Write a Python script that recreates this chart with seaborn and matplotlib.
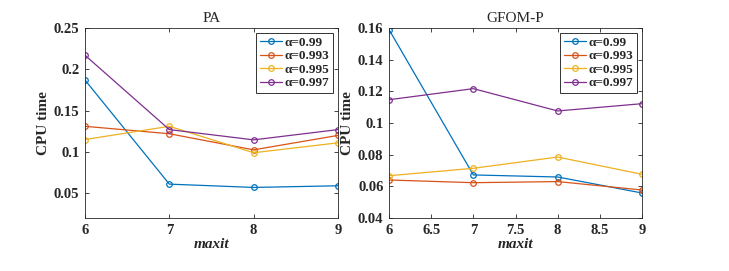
import pandas as pd
import seaborn as sns
import matplotlib.pyplot as plt

# data
maxit = [6, 7, 8, 9]
alphas = ['0.99', '0.993', '0.995', '0.997']

pa_099 = [0.187, 0.061, 0.057, 0.059]
pa_0993 = [0.131, 0.122, 0.1025, 0.120]
pa_0995 = [0.115, 0.131, 0.099, 0.111]
pa_0997 = [0.217, 0.127, 0.1146, 0.127]

gf_099 = [0.159, 0.0672, 0.0659, 0.0558]
gf_0993 = [0.064, 0.0623, 0.063, 0.0577]
gf_0995 = [0.0667, 0.0714, 0.0785, 0.0676]
gf_0997 = [0.1147, 0.1217, 0.1076, 0.1122]

colors = ['#0072BD', '#D95319', '#EDB120', '#7E2F8E']


def to_long(series):
    rows = []
    for a, vals in zip(alphas, series):
        for x, v in zip(maxit, vals):
            rows.append({'maxit': x, 'alpha': '\u03b1=' + a, 'cpu': v})
    return pd.DataFrame(rows)


pa_df = to_long([pa_099, pa_0993, pa_0995, pa_0997])
gf_df = to_long([gf_099, gf_0993, gf_0995, gf_0997])

sns.set_style('ticks')
plt.rcParams['font.family'] = ['Liberation Serif', 'DejaVu Serif']

fig = plt.figure(figsize=(7.29, 2.71), dpi=100)
ax1 = fig.add_axes([85 / 729, 1 - 218 / 271, 253 / 729, 190 / 271])
ax2 = fig.add_axes([389 / 729, 1 - 218 / 271, 253 / 729, 190 / 271])


def draw(ax, df, title, yticks, ylim, xticks):
    sns.lineplot(data=df, x='maxit', y='cpu', hue='alpha', palette=colors,
                 marker='o', markersize=4, markerfacecolor='none',
                 markeredgewidth=0.9, linewidth=0.9, ax=ax)
    for line in ax.get_lines():
        line.set_markeredgecolor(line.get_color())
        line.set_markerfacecolor('none')
    ax.set_xlim(6, 9)
    ax.set_ylim(*ylim)
    ax.set_xticks(xticks)
    ax.set_xticklabels([('%g' % t) for t in xticks])
    ax.set_yticks(yticks)
    ax.set_yticklabels([('%g' % t) for t in yticks])
    ax.tick_params(direction='in', top=True, right=True, length=3,
                   width=0.6, labelsize=10.5, pad=4)
    for lbl in ax.get_xticklabels() + ax.get_yticklabels():
        lbl.set_fontweight('bold')
    for sp in ax.spines.values():
        sp.set_visible(True)
        sp.set_linewidth(0.6)
        sp.set_color('#262626')
    ax.set_title(title, fontsize=11, pad=4)
    ax.set_xlabel('maxit', fontsize=11, fontstyle='italic',
                  fontweight='bold', labelpad=1)
    ax.set_ylabel('CPU time', fontsize=11, fontweight='bold', labelpad=3)
    leg = ax.legend(loc='upper right', fontsize=9.5, frameon=True,
                    fancybox=False, handlelength=1.7, handletextpad=0.2,
                    borderpad=0.25, labelspacing=0.1, borderaxespad=0.4)
    leg.get_frame().set_edgecolor('black')
    leg.get_frame().set_linewidth(0.7)
    for t in leg.get_texts():
        t.set_fontweight('bold')
    for h in leg.get_lines():
        h.set_markerfacecolor('none')
        h.set_markeredgecolor(h.get_color())


draw(ax1, pa_df, 'PA', [0.05, 0.1, 0.15, 0.2, 0.25], (0.02, 0.25),
     [6, 7, 8, 9])
draw(ax2, gf_df, 'GFOM-P', [0.04, 0.06, 0.08, 0.1, 0.12, 0.14, 0.16],
     (0.04, 0.16), [6, 6.5, 7, 7.5, 8, 8.5, 9])

fig.savefig('out.png', dpi=100)
